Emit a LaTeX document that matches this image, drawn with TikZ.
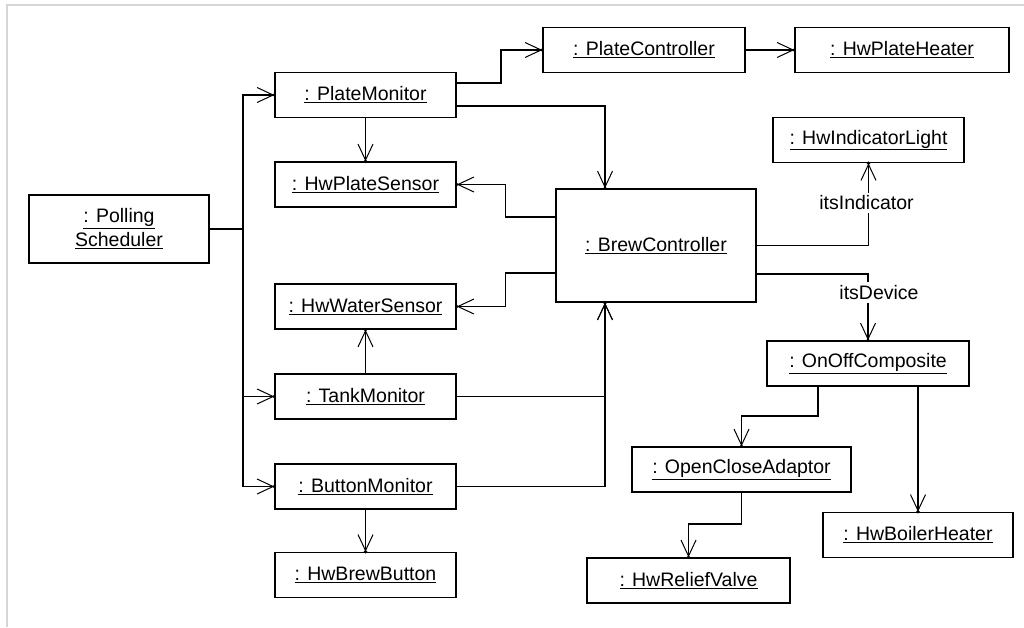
\documentclass[tikz,border=0pt]{standalone}
\usepackage{fontspec}
\setmainfont{Liberation Sans}
\usetikzlibrary{arrows.meta,decorations.markings}

\begin{document}
\begin{tikzpicture}[x=1pt,y=-1pt,
  obj/.style={draw, line width=1.5pt, minimum height=45pt, inner sep=0pt,
    font=\fontsize{19.5}{24}\selectfont, align=center},
  nav/.style={line width=1.5pt,
    -{Straight Barb[length=16pt,width=15pt,line width=1pt]},
    postaction={decorate},
    decoration={markings, mark=at position 1 with {\fill (0,0) circle (1.9pt);}}},
  link/.style={line width=1.5pt},
  role/.style={fill=white, inner sep=3pt, font=\fontsize{19.5}{24}\selectfont}]

\useasboundingbox (0,0) rectangle (1024,627);
\fill[white] (0,0) rectangle (1024,627);
% window edge
\draw[line width=2pt, color={rgb,255:red,214;green,214;blue,214}] (7,627) -- (7,5) -- (1024,5);

% objects
\node[obj, minimum width=180pt, minimum height=68pt] (ps) at (119,229)
  {\underline{: Polling}\\\underline{Scheduler}};
\node[obj, minimum width=181pt] (pm)  at (365.5,95)    {\underline{: PlateMonitor}};
\node[obj, minimum width=181pt] (hps) at (365.5,184.5) {\underline{: HwPlateSensor}};
\node[obj, minimum width=181pt] (hws) at (365.5,306.5) {\underline{: HwWaterSensor}};
\node[obj, minimum width=181pt] (tm)  at (365.5,396.5) {\underline{: TankMonitor}};
\node[obj, minimum width=181pt] (bm)  at (365.5,486.5) {\underline{: ButtonMonitor}};
\node[obj, minimum width=181pt] (hbb) at (365.5,575)   {\underline{: HwBrewButton}};
\node[obj, minimum width=202pt] (pc)  at (644,50)      {\underline{: PlateController}};
\node[obj, minimum width=214pt] (hph) at (902,50)      {\underline{: HwPlateHeater}};
\node[obj, minimum width=200pt, minimum height=113pt] (bc) at (656,245.5)
  {\underline{: BrewController}};
\node[obj, minimum width=191pt] (hil) at (868.5,140)   {\underline{: HwIndicatorLight}};
\node[obj, minimum width=202pt] (ooc) at (868,363.5)   {\underline{: OnOffComposite}};
\node[obj, minimum width=219pt] (oca) at (741.5,469.5) {\underline{: OpenCloseAdaptor}};
\node[obj, minimum width=203pt] (hrv) at (688.5,580.5) {\underline{: HwReliefValve}};
\node[obj, minimum width=190pt] (hbh) at (918,535)     {\underline{: HwBoilerHeater}};

% scheduler polls the monitors
\draw[nav] (ps.east) -- ++(33,0) |- (pm.west);
\draw[nav] (ps.east) -- ++(33,0) |- (tm.west);
\draw[nav] (ps.east) -- ++(33,0) |- (bm.west);

% plate monitor
\draw[nav] ([yshift=12pt]pm.east) -- ++(44,0) |- (pc.west);
\draw[nav] (pc.east) -- (hph.west);
\draw[nav] ([yshift=-11pt]pm.east) -| ([xshift=-51pt]bc.north);
\draw[nav] (pm.south) -- (hps.north);

% brew controller to sensors
\draw[nav] ([yshift=28.5pt]bc.west) -- ++(-50,0) |- (hps.east);
\draw[nav] ([yshift=-27.5pt]bc.west) -- ++(-50,0) |- (hws.east);

% tank and button monitors
\draw[nav] (tm.north) -- (hws.south);
\draw[nav] (bm.south) -- (hbb.north);
\draw[nav] (tm.east) -| ([xshift=-51pt]bc.south);
\draw[nav] (bm.east) -| ([xshift=-51pt]bc.south);

% brew controller roles
\draw[nav] (bc.east) -| node[role, pos=0.76, xshift=-2pt] {itsIndicator} (hil.south);
\draw[nav] ([yshift=-28.5pt]bc.east) -| node[role, pos=0.64, xshift=11pt] {itsDevice} (ooc.north);

% composite device
\draw[nav] ([xshift=-50pt]ooc.south) -- ++(0,29) -| (oca.north);
\draw[nav] (hbh.north |- ooc.south) -- (hbh.north);
\draw[nav] (oca.south) -- ++(0,31) -| (hrv.north);

\end{tikzpicture}
\end{document}
